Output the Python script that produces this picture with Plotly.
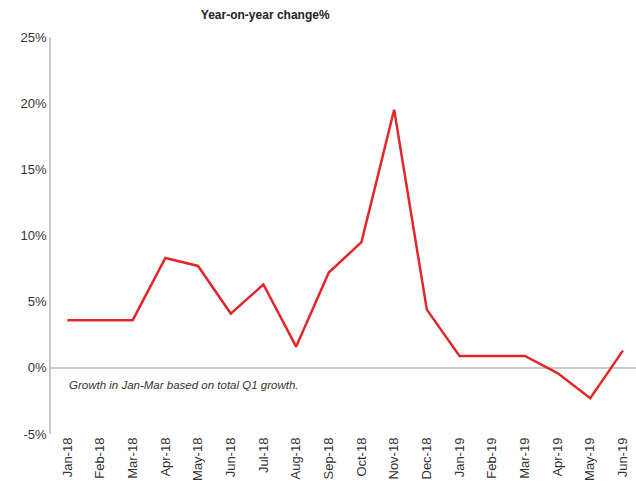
import plotly.graph_objects as go

months = ["Jan-18", "Feb-18", "Mar-18", "Apr-18", "May-18", "Jun-18", "Jul-18", "Aug-18",
          "Sep-18", "Oct-18", "Nov-18", "Dec-18", "Jan-19", "Feb-19", "Mar-19", "Apr-19",
          "May-19", "Jun-19"]
yoy_change = [3.6, 3.6, 3.6, 8.3, 7.7, 4.1, 6.3, 1.6, 7.2, 9.5, 19.5, 4.4,
              0.9, 0.9, 0.9, -0.4, -2.3, 1.3]
y_ticks = [-5, 0, 5, 10, 15, 20, 25]
y_tick_labels = ["-5%", "0%", "5%", "10%", "15%", "20%", "25%"]

fig = go.Figure()
fig.add_trace(go.Scatter(
    x=list(range(len(months))), y=yoy_change, mode="lines",
    line=dict(color="#e3262a", width=2.5), hoverinfo="skip", showlegend=False,
))

fig.update_layout(
    width=636, height=491,
    margin=dict(l=51, r=0, t=37, b=57, autoexpand=False),
    paper_bgcolor="white", plot_bgcolor="white",
    font=dict(family="Liberation Sans, Arial, sans-serif", size=13, color="#333333"),
    title=dict(text="<b>Year-on-year change%</b>", x=0.417, xanchor="center",
               y=0.97, yanchor="middle", font=dict(size=12, color="#222222")),
    xaxis=dict(
        tickmode="array", tickvals=list(range(len(months))), ticktext=months,
        tickangle=-90, range=[-0.5, 17.4], showgrid=False, zeroline=False,
        showline=False, ticks="", tickfont=dict(size=13, color="#333333"),
        automargin=False,
    ),
    yaxis=dict(
        tickmode="array", tickvals=y_ticks, ticktext=y_tick_labels, range=[-5, 25],
        showgrid=False, zeroline=True, zerolinecolor="#c8c8c8", zerolinewidth=1.5,
        showline=True, linecolor="#c8c8c8", linewidth=1.5, ticks="",
        tickfont=dict(size=13, color="#333333"), automargin=False,
    ),
    annotations=[dict(
        text="<i>Growth in Jan-Mar based on total Q1 growth.</i>",
        x=0.5 - 0.5, xref="x", xanchor="left", y=-1.3, yref="y", yanchor="middle",
        showarrow=False, font=dict(size=11.5, color="#333333"),
    )],
)

fig.write_html("out.html", config={"displayModeBar": False},
               post_script="document.body.style.margin='0px';document.body.style.overflow='hidden';")
